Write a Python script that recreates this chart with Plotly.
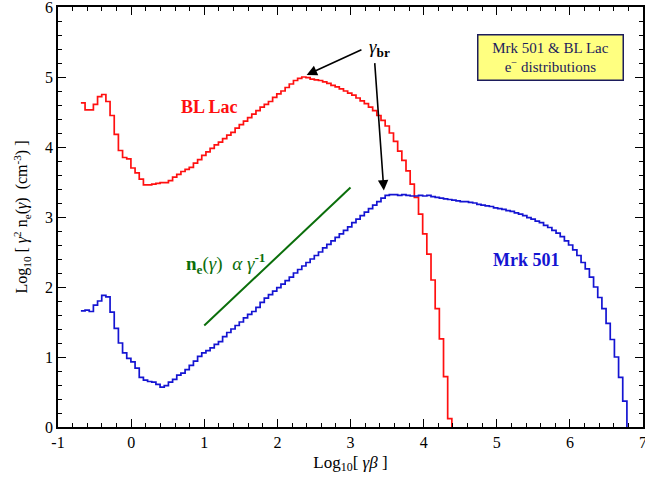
import numpy as np
import plotly.graph_objects as go

# ---------------- data ----------------
x_start = -0.687      # left edge of first bin, log10(gamma*beta)
bin_width = 0.057     # bin width in log10(gamma*beta)

bl_lac = [4.63, 4.53, 4.53, 4.61, 4.72, 4.75, 4.65, 4.45, 4.18, 3.95, 3.85, 3.83,
          3.70, 3.63, 3.54, 3.46, 3.46, 3.47, 3.48, 3.49, 3.49, 3.52, 3.57,
          3.61, 3.65, 3.68, 3.71, 3.77, 3.82, 3.88, 3.93, 3.98, 4.03, 4.07, 4.12,
          4.17, 4.21, 4.27, 4.32, 4.37, 4.42, 4.47, 4.52, 4.57, 4.61, 4.65, 4.71,
          4.76, 4.80, 4.85, 4.90, 4.95, 4.98,
          5.00, 4.99, 4.97, 4.96, 4.95, 4.93, 4.91, 4.88, 4.86, 4.83, 4.80, 4.77,
          4.74, 4.70, 4.66, 4.62, 4.57, 4.52, 4.45, 4.38, 4.30, 4.20, 4.08, 3.94,
          3.81, 3.66, 3.47, 3.28, 3.04, 2.76, 2.47, 2.10, 1.69, 1.26, 0.72, 0.12]

mrk501 = [1.66, 1.67, 1.65, 1.74, 1.80, 1.88, 1.86, 1.64, 1.41, 1.20, 1.06, 0.98,
          0.93, 0.84, 0.71, 0.67, 0.65, 0.64, 0.61, 0.57, 0.59, 0.64, 0.68, 0.74,
          0.77, 0.82, 0.88, 0.94, 1.01, 1.06, 1.09, 1.13, 1.18, 1.22, 1.29, 1.35,
          1.40, 1.45, 1.50, 1.56, 1.61, 1.65, 1.71,
          1.78, 1.84, 1.89, 1.94, 1.99, 2.04, 2.09, 2.14, 2.20, 2.25, 2.30, 2.35,
          2.40, 2.45, 2.50, 2.56, 2.61, 2.66, 2.71, 2.76, 2.81, 2.86, 2.92, 2.97,
          3.02, 3.07, 3.12, 3.17, 3.22, 3.27,
          3.31, 3.32, 3.32,
          3.31, 3.32, 3.31, 3.30, 3.30, 3.31, 3.30, 3.31, 3.29, 3.28, 3.27, 3.26,
          3.25, 3.24, 3.23, 3.22, 3.22, 3.21, 3.20, 3.18, 3.17, 3.16, 3.15, 3.13,
          3.12, 3.11, 3.09, 3.08, 3.06, 3.04, 3.02, 2.99, 2.97, 2.94, 2.92, 2.88,
          2.85, 2.81, 2.77, 2.72, 2.66, 2.60, 2.53, 2.45, 2.35, 2.26, 2.14, 2.00,
          1.85, 1.69, 1.48, 1.25, 1.00, 0.71, 0.37]

slope_line_x = [1.0, 3.0]
slope_line_y = [1.45, 3.42]

x_ticks = [-1, 0, 1, 2, 3, 4, 5, 6, 7]
x_tick_text = ["-1", "0", "1", "2", "3", "4", "5", "6", "7"]
y_ticks = [0, 1, 2, 3, 4, 5, 6]

# ---------------- build step traces ----------------
def step_xy(vals):
    edges = x_start + bin_width * np.arange(len(vals) + 1)
    ys = list(vals) + [0.0]
    return edges, ys

rx, ry = step_xy(bl_lac)
bx, by = step_xy(mrk501)

SERIF = "Liberation Serif"
RED = "#ff1010"
BLUE = "#1414d2"
GREEN = "#0a6e0a"
NAVY = "#1c1c5c"

fig = go.Figure()
fig.add_trace(go.Scatter(x=rx, y=ry, mode="lines",
                         line=dict(color=RED, width=1.7, shape="hv"),
                         hoverinfo="skip"))
fig.add_trace(go.Scatter(x=bx, y=by, mode="lines",
                         line=dict(color=BLUE, width=1.7, shape="hv"),
                         hoverinfo="skip"))
fig.add_trace(go.Scatter(x=slope_line_x, y=slope_line_y, mode="lines",
                         line=dict(color=GREEN, width=2),
                         hoverinfo="skip"))

axis_common = dict(
    showgrid=False, zeroline=False, automargin=False,
    showline=True, linecolor="black", linewidth=1.5,
    mirror="allticks", ticks="inside", ticklen=8, tickwidth=1.2,
    tickcolor="black", ticklabeloverflow="allow",
    tickfont=dict(family=SERIF, size=16, color="black"),
)

fig.update_layout(
    width=645, height=485,
    margin=dict(l=58, r=2, t=7, b=58),
    paper_bgcolor="white", plot_bgcolor="white",
    showlegend=False,
    font=dict(family=SERIF),
    xaxis=dict(
        range=[-1, 7], tickvals=x_ticks, ticktext=x_tick_text,
        minor=dict(tick0=-1, dtick=0.2, ticks="inside", ticklen=4,
                   tickcolor="black", tickwidth=1),
        title=dict(text="Log<sub>10</sub>[ <i>γβ</i> ]",
                   font=dict(family=SERIF, size=17, color="black"),
                   standoff=6),
        **axis_common,
    ),
    yaxis=dict(
        range=[0, 6], tickvals=y_ticks,
        minor=dict(tick0=0, dtick=0.2, ticks="inside", ticklen=4,
                   tickcolor="black", tickwidth=1),
        title=dict(text="Log<sub>10</sub> [ <i>γ</i><sup>2</sup> n<sub>e</sub>(<i>γ</i>)  (cm<sup>-3</sup>) ]",
                   font=dict(family=SERIF, size=16, color="black"),
                   standoff=13),
        **axis_common,
    ),
)

annotations = [
    dict(x=1.075, y=4.57, text="<b>BL Lac</b>", showarrow=False,
         font=dict(family=SERIF, size=18, color=RED)),
    dict(x=5.40, y=2.38, text="<b>Mrk 501</b>", showarrow=False,
         font=dict(family=SERIF, size=18, color=BLUE)),
    dict(x=1.29, y=2.34,
         text="<b>n<sub>e</sub></b>(<i>γ</i>)&nbsp; <i>α</i> <i>γ</i><sup><b>-1</b></sup>",
         showarrow=False, font=dict(family=SERIF, size=19, color=GREEN)),
    dict(x=3.40, y=5.42, text="<i>γ</i><sub><b>br</b></sub>", showarrow=False,
         font=dict(family=SERIF, size=19, color="black")),
    # arrows
    dict(x=2.40, y=5.03, ax=3.17, ay=5.40, axref="x", ayref="y",
         xref="x", yref="y", text="", showarrow=True,
         arrowhead=2, arrowsize=1.3, arrowwidth=1.6, arrowcolor="black"),
    dict(x=3.456, y=3.38, ax=3.33, ay=5.22, axref="x", ayref="y",
         xref="x", yref="y", text="", showarrow=True,
         arrowhead=2, arrowsize=1.3, arrowwidth=1.6, arrowcolor="black"),
    dict(x=5.74, y=5.28,
         text="Mrk 501 &amp; BL Lac<br>e<sup>−</sup> distributions",
         showarrow=False, align="center",
         font=dict(family=SERIF, size=15, color=NAVY),
         bgcolor="#ffff80", bordercolor=NAVY, borderwidth=1.5,
         borderpad=4, width=136),
]
fig.update_layout(annotations=annotations)

fig.write_html("out.html",
               config={"displayModeBar": False},
               post_script="document.body.style.margin='0';")
